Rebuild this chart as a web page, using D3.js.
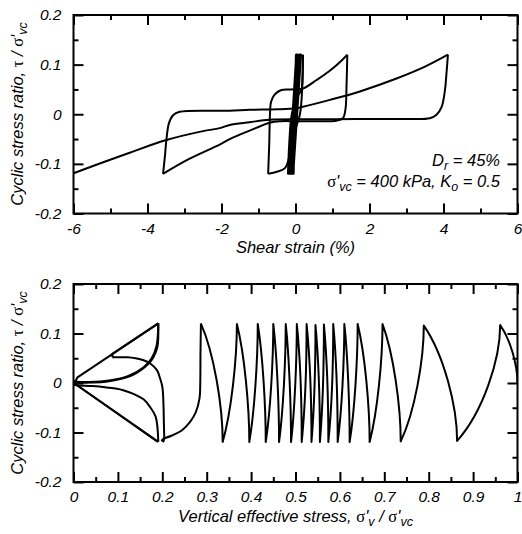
<!DOCTYPE html>
<html>
<head>
<meta charset="utf-8">
<title>Cyclic DSS test</title>
<script src="https://d3js.org/d3.v7.min.js"></script>
<style>
  body { margin: 0; background: #fff; }
  text { font-family: "Liberation Sans", Arial, sans-serif; font-style: italic; fill: #000; }
  .gr { font-family: "Liberation Serif", "DejaVu Serif", serif; font-style: normal; }
</style>
</head>
<body>
<script>
// ---- top panel: shear strain (%) vs cyclic stress ratio
var strainTicks = [-6, -4, -2, 0, 2, 4, 6];
var strainLabels = ['-6', '-4', '-2', '0', '2', '4', '6'];
var strainMinor = [-5, -3, -1, 1, 3, 5];
var ratioTicks = [-0.2, -0.1, 0, 0.1, 0.2];
var ratioLabels = ['-0.2', '-0.1', '0', '0.1', '0.2'];
var ratioMinor = [-0.15, -0.05, 0.05, 0.15];

// early cycles, small strain (peaks only)
var bandPeaks = [[0,0],[0.01,0.12],[-0.05,-0.12],[0.02,0.12],[-0.18,-0.12],[0.03,0.12],[-0.15,-0.12],
  [0.06,0.12],[-0.2,-0.12],[0.04,0.12],[-0.12,-0.12],[0.09,0.12],[-0.16,-0.12],[0.11,0.12],[-0.08,-0.12],
  [0.13,0.12],[-0.1,-0.12],[0.15,0.12],[-0.06,-0.12],[0.14,0.12],[-0.13,-0.12],[0.07,0.12],[-0.19,-0.12],
  [0.12,0.12],[-0.2,-0.12]];
// later half cycles
var toPeak02 = [[-0.2,-0.12],[-0.17,-0.06],[-0.1,0.0],[0.05,0.035],[0.16,0.05],[0.19,0.075],[0.2,0.12]];
var toPeakM075 = [[0.2,0.12],[0.18,0.05],[0.12,0.0],[0.0,-0.03],[-0.15,-0.08],[-0.28,-0.108],[-0.5,-0.116],[-0.74,-0.12]];
var toPeak14 = [[-0.74,-0.12],[-0.71,-0.06],[-0.69,0.0],[-0.66,0.025],[-0.56,0.04],[-0.38,0.049],[-0.11,0.05],
  [0.2,0.052],[0.57,0.069],[0.9,0.086],[1.24,0.108],[1.4,0.12]];
var toPeakM36 = [[1.4,0.12],[1.38,0.06],[1.35,0.01],[1.28,-0.008],[1.1,-0.013],[0.5,-0.014],[0,-0.014],
  [-0.4,-0.014],[-0.7,-0.017],[-1.24,-0.033],[-1.78,-0.05],[-2.05,-0.061],[-2.9,-0.091],[-3.58,-0.12]];
var toPeak41 = [[-3.58,-0.12],[-3.53,-0.085],[-3.49,-0.052],[-3.42,-0.018],[-3.31,-0.002],[-3.13,0.005],
  [-1.78,0.007],[-1.24,0.009],[-0.5,0.01],[0,0.012],[0.2,0.015],[0.93,0.029],[1.74,0.046],[2.73,0.072],
  [3.5,0.096],[4.12,0.12]];
var toEnd = [[4.12,0.12],[4.08,0.082],[4.04,0.049],[3.95,0.015],[3.81,-0.001],[3.63,-0.008],[3.0,-0.0095],
  [2.0,-0.0095],[1.0,-0.01],[0.3,-0.01],[-0.7,-0.011],[-1.24,-0.016],[-1.78,-0.0215],[-2.05,-0.028],
  [-2.5,-0.034],[-3.49,-0.052],[-4.5,-0.078],[-6.0,-0.119],[-6.3,-0.128]];

// ---- bottom panel: vertical effective stress ratio vs cyclic stress ratio
var effTicks = [0, 0.1, 0.2, 0.3, 0.4, 0.5, 0.6, 0.7, 0.8, 0.9, 1];
var effLabels = ['0', '0.1', '0.2', '0.3', '0.4', '0.5', '0.6', '0.7', '0.8', '0.9', '1'];
var effMinor = [0.05, 0.15, 0.25, 0.35, 0.45, 0.55, 0.65, 0.75, 0.85, 0.95];

// turning points of the stress path, in time order
var pathPeaks = [[1.0,0],[0.961,0.117],[0.864,-0.117],[0.789,0.116],[0.737,-0.118],[0.696,0.119],
  [0.667,-0.119],[0.640,0.119],[0.622,-0.119],[0.610,0.119],[0.595,-0.119],[0.585,0.119],[0.574,-0.119],
  [0.564,0.118],[0.555,-0.119],[0.545,0.117],[0.536,-0.119],[0.525,0.119],[0.514,-0.119],[0.503,0.119],
  [0.490,-0.119],[0.478,0.119],[0.463,-0.119],[0.450,0.119],[0.433,-0.119],[0.415,0.119],[0.396,-0.119],
  [0.368,0.119],[0.336,-0.119],[0.287,0.12]];
// last cycles (butterfly)
var lastUnload = [[0.287,0.12],[0.286,0.06],[0.2855,0.0],[0.284,-0.03],[0.275,-0.06],[0.263,-0.078],
  [0.245,-0.095],[0.222,-0.106],[0.203,-0.112]];
var blob = [[0.203,-0.112],[0.199,-0.116],[0.2025,-0.118],[0.2045,-0.113]];
var riseToLine = [[0.2045,-0.113],[0.2035,-0.08],[0.2025,-0.04],[0.2,-0.007],[0.194,0.012],[0.188,0.026],
  [0.172,0.04],[0.158,0.046],[0.14,0.05],[0.121,0.052],[0.0876,0.052]];
var climb1 = [[0.0876,0.052],[0.0876,0.0587],[0.191,0.1206]];
var unload1 = [[0.191,0.1206],[0.189,0.073],[0.18,0.052],[0.17,0.04],[0.133,0.016],[0.1,0.007],
  [0.073,0.0026],[0.04,0.001],[0.013,0.0006],[0.0,0.001]];
var drop1 = [[0.0,0.001],[0.0128,-0.0075],[0.191,-0.1186]];
var load1 = [[0.191,-0.1186],[0.185,-0.068],[0.172,-0.048],[0.159,-0.034],[0.135,-0.022],[0.11,-0.014],
  [0.075,-0.009],[0.043,-0.006],[0.013,-0.005],[0.0,-0.004]];
var climb2 = [[0.0,-0.004],[0.009,0.0115],[0.191,0.1206]];
var unload2 = [[0.191,0.1206],[0.187,0.075],[0.176,0.05],[0.158,0.032],[0.125,0.015],[0.08,0.005],
  [0.035,0.002],[0.0,0.003]];
var drop2 = [[0.0,0.003],[0.0128,-0.0075],[0.19,-0.119]];

var svg = d3.select('body').append('svg')
    .attr('width', 522)
    .attr('height', 534);

var xTop = d3.scaleLinear().domain([-6, 6]).range([73.5, 517.5]);
var yTop = d3.scaleLinear().domain([-0.2, 0.2]).range([213.5, 15]);
var xBot = d3.scaleLinear().domain([0, 1]).range([73.5, 517.5]);
var yBot = d3.scaleLinear().domain([-0.2, 0.2]).range([482, 284]);

function frame(x, y, xMajor, xLab, xMinor, yMajor, yLab, yMinor, id) {
  var x0 = x.range()[0], x1 = x.range()[1], y0 = y.range()[0], y1 = y.range()[1];
  var g = svg.append('g');
  g.append('g').attr('transform', 'translate(0,' + y0 + ')')
    .call(d3.axisBottom(x).tickValues(xMinor).tickSize(-5).tickSizeOuter(0).tickFormat(''));
  g.append('g').attr('transform', 'translate(0,' + y1 + ')')
    .call(d3.axisTop(x).tickValues(xMinor).tickSize(-5).tickSizeOuter(0).tickFormat(''));
  g.append('g').attr('transform', 'translate(' + x0 + ',0)')
    .call(d3.axisLeft(y).tickValues(yMinor).tickSize(-5).tickSizeOuter(0).tickFormat(''));
  g.append('g').attr('transform', 'translate(' + x1 + ',0)')
    .call(d3.axisRight(y).tickValues(yMinor).tickSize(-5).tickSizeOuter(0).tickFormat(''));

  g.append('g').attr('transform', 'translate(0,' + y0 + ')')
    .call(d3.axisBottom(x).tickValues(xMajor).tickSize(-10).tickSizeOuter(0).tickPadding(9)
      .tickFormat(function(d, i) { return xLab[i]; }));
  g.append('g').attr('transform', 'translate(0,' + y1 + ')')
    .call(d3.axisTop(x).tickValues(xMajor).tickSize(-10).tickSizeOuter(0).tickFormat(''));
  g.append('g').attr('transform', 'translate(' + x0 + ',0)')
    .call(d3.axisLeft(y).tickValues(yMajor).tickSize(-10).tickSizeOuter(0).tickPadding(12)
      .tickFormat(function(d, i) { return yLab[i]; }));
  g.append('g').attr('transform', 'translate(' + x1 + ',0)')
    .call(d3.axisRight(y).tickValues(yMajor).tickSize(-10).tickSizeOuter(0).tickFormat(''));

  g.selectAll('.domain').remove();
  g.selectAll('.tick line').attr('stroke', '#000').attr('stroke-width', 2);
  g.selectAll('.tick text').attr('font-size', 15.5);

  g.append('rect')
    .attr('x', x0).attr('y', y1)
    .attr('width', x1 - x0).attr('height', y0 - y1)
    .attr('fill', 'none').attr('stroke', '#000').attr('stroke-width', 2);

  svg.append('clipPath').attr('id', id)
    .append('rect').attr('x', x0).attr('y', y1).attr('width', x1 - x0).attr('height', y0 - y1);
}

frame(xTop, yTop, strainTicks, strainLabels, strainMinor, ratioTicks, ratioLabels, ratioMinor, 'clipTop');
frame(xBot, yBot, effTicks, effLabels, effMinor, ratioTicks, ratioLabels, ratioMinor, 'clipBot');

// ---- top curves
var topG = svg.append('g').attr('clip-path', 'url(#clipTop)');
var lineTopStraight = d3.line()
    .x(function(d) { return xTop(d[0]); })
    .y(function(d) { return yTop(d[1]); });
var lineTopCurve = d3.line()
    .x(function(d) { return xTop(d[0]); })
    .y(function(d) { return yTop(d[1]); })
    .curve(d3.curveCatmullRom.alpha(0.5));

topG.append('path').datum(bandPeaks).attr('d', lineTopStraight);
[toPeak02, toPeakM075, toPeak14, toPeakM36, toPeak41, toEnd].forEach(function(seg) {
  topG.append('path').datum(seg).attr('d', lineTopCurve);
});
topG.selectAll('path')
  .attr('fill', 'none').attr('stroke', '#000').attr('stroke-width', 2)
  .attr('stroke-linejoin', 'round');

// ---- bottom curves
var botG = svg.append('g').attr('clip-path', 'url(#clipBot)');

// each half cycle leaves its turning point almost vertically, then bends over
var p = d3.path();
pathPeaks.forEach(function(d, i) {
  var ax = xBot(d[0]), ay = yBot(d[1]);
  if (i == 0) { p.moveTo(ax, ay); return; }
  var prev = pathPeaks[i - 1];
  var px = xBot(prev[0]), py = yBot(prev[1]);
  p.bezierCurveTo(px, py + 0.3 * (ay - py),
                  ax + 0.6 * (px - ax), ay + 0.25 * (py - ay),
                  ax, ay);
});
botG.append('path').attr('d', p.toString());

var lineBotStraight = d3.line()
    .x(function(d) { return xBot(d[0]); })
    .y(function(d) { return yBot(d[1]); });
var lineBotCurve = d3.line()
    .x(function(d) { return xBot(d[0]); })
    .y(function(d) { return yBot(d[1]); })
    .curve(d3.curveCatmullRom.alpha(0.5));

[lastUnload, riseToLine, unload1, load1, unload2].forEach(function(seg) {
  botG.append('path').datum(seg).attr('d', lineBotCurve);
});
[blob, climb1, drop1, climb2, drop2].forEach(function(seg) {
  botG.append('path').datum(seg).attr('d', lineBotStraight);
});
botG.selectAll('path')
  .attr('fill', 'none').attr('stroke', '#000').attr('stroke-width', 2)
  .attr('stroke-linejoin', 'round');

// ---- titles
function ratioTitle(cy) {
  var t = svg.append('text')
    .attr('transform', 'translate(23,' + cy + ') rotate(-90)')
    .attr('text-anchor', 'middle')
    .attr('font-size', 16.5);
  t.append('tspan').text('Cyclic stress ratio, ');
  t.append('tspan').attr('class', 'gr').text('τ');
  t.append('tspan').text(' / ');
  t.append('tspan').attr('class', 'gr').text('σ');
  t.append('tspan').text("'");
  t.append('tspan').attr('dy', 4).attr('font-size', 12.5).text('vc');
}
ratioTitle(114);
ratioTitle(383);

svg.append('text')
  .attr('x', 295.5).attr('y', 252.5)
  .attr('text-anchor', 'middle')
  .attr('font-size', 16.5)
  .text('Shear strain (%)');

var bt = svg.append('text')
  .attr('x', 295.5).attr('y', 522)
  .attr('text-anchor', 'middle')
  .attr('font-size', 16.5);
bt.append('tspan').text('Vertical effective stress, ');
bt.append('tspan').attr('class', 'gr').text('σ');
bt.append('tspan').text("'");
bt.append('tspan').attr('dy', 4).attr('font-size', 12.5).text('v');
bt.append('tspan').attr('dy', -4).text(' / ');
bt.append('tspan').attr('class', 'gr').text('σ');
bt.append('tspan').text("'");
bt.append('tspan').attr('dy', 4).attr('font-size', 12.5).text('vc');

// ---- annotation
var a1 = svg.append('text')
  .attr('x', 500).attr('y', 165.5)
  .attr('text-anchor', 'end')
  .attr('font-size', 16.5);
a1.append('tspan').text('D');
a1.append('tspan').attr('dy', 4).attr('font-size', 12.5).text('r');
a1.append('tspan').attr('dy', -4).text(' = 45%');

var a2 = svg.append('text')
  .attr('x', 500).attr('y', 186.5)
  .attr('text-anchor', 'end')
  .attr('font-size', 16.5);
a2.append('tspan').attr('class', 'gr').text('σ');
a2.append('tspan').text("'");
a2.append('tspan').attr('dy', 4).attr('font-size', 12.5).text('vc');
a2.append('tspan').attr('dy', -4).text(' = 400 kPa, K');
a2.append('tspan').attr('dy', 4).attr('font-size', 12.5).text('o');
a2.append('tspan').attr('dy', -4).text(' = 0.5');
</script>
</body>
</html>
